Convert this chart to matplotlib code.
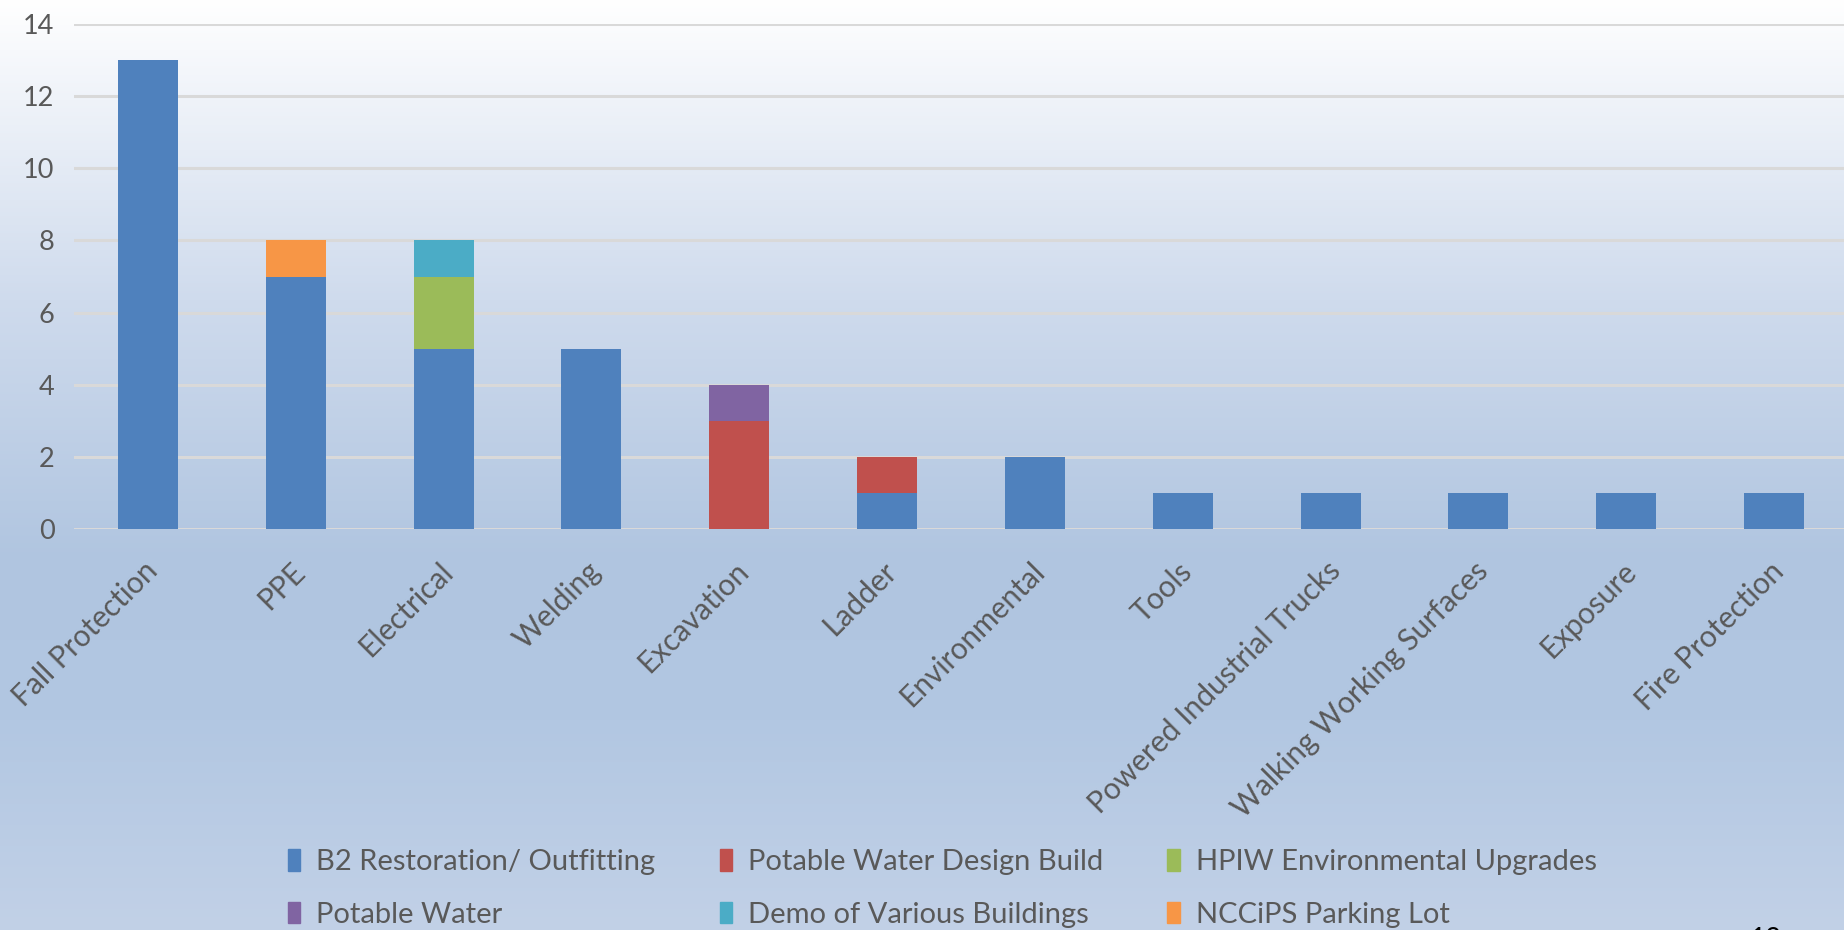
import numpy as np
import matplotlib
matplotlib.use("Agg")
import matplotlib.pyplot as plt
from matplotlib.patches import Patch
from matplotlib.transforms import ScaledTranslation

# ─── DATA ──────────────────────────────────────────────────────────────────────

categories = ["Fall Protection", "PPE", "Electrical", "Welding", "Excavation", "Ladder",
              "Environmental", "Tools", "Powered Industrial Trucks",
              "Walking Working Surfaces", "Exposure", "Fire Protection"]

series_names = ["B2 Restoration/ Outfitting", "Potable Water Design Build",
                "HPIW Environmental Upgrades", "Potable Water",
                "Demo of Various Buildings", "NCCiPS Parking Lot"]

b2_restoration = [13, 7, 5, 5, 0, 1, 2, 1, 1, 1, 1, 1]
potable_design = [0, 0, 0, 0, 3, 1, 0, 0, 0, 0, 0, 0]
hpiw_upgrades = [0, 0, 2, 0, 0, 0, 0, 0, 0, 0, 0, 0]
potable_water = [0, 0, 0, 0, 1, 0, 0, 0, 0, 0, 0, 0]
demo_buildings = [0, 0, 1, 0, 0, 0, 0, 0, 0, 0, 0, 0]
nccips_parking = [0, 1, 0, 0, 0, 0, 0, 0, 0, 0, 0, 0]

y_ticks = [0, 2, 4, 6, 8, 10, 12, 14]

colors = ["#4F81BD", "#C0504D", "#9BBB59", "#8064A2", "#4BACC6", "#F79646"]

# ─── FIGURE ────────────────────────────────────────────────────────────────────

plt.rcParams['font.family'] = ['Lato', 'DejaVu Sans']
text_color = "#595959"

fig = plt.figure(figsize=(18.44, 9.30), dpi=100)

# slide background gradient (white at top -> light steel blue)
stops_y = [0, 300, 560, 720, 930]
stops_rgb = np.array([[255, 255, 255], [207, 219, 237], [176, 197, 224],
                      [178, 199, 226], [194, 209, 231]]) / 255.0
yy = np.arange(930)
grad = np.stack([np.interp(yy, stops_y, stops_rgb[:, c]) for c in range(3)], axis=1)
bg = fig.add_axes([0, 0, 1, 1], zorder=-10)
bg.imshow(grad[:, None, :], aspect="auto", extent=[0, 1, 0, 1])
bg.axis("off")

ax = fig.add_axes([74 / 1844, (930 - 529) / 930, (1848 - 74) / 1844, (529 - 24) / 930])
ax.set_facecolor("none")

all_series = [b2_restoration, potable_design, hpiw_upgrades,
              potable_water, demo_buildings, nccips_parking]
x = np.arange(len(categories))
bottoms = np.zeros(len(categories))
for name, vals, col in zip(series_names, all_series, colors):
    vals = np.array(vals, dtype=float)
    ax.bar(x, vals, width=0.405, bottom=bottoms, color=col, label=name, zorder=3)
    bottoms += vals

ax.set_xlim(-0.5, len(categories) - 0.5)
ax.set_ylim(0, 14)
ax.set_yticks(y_ticks)
ax.yaxis.grid(True, color="#d9d9d9", linewidth=2.2, zorder=0)
ax.set_axisbelow(True)
for s in ax.spines.values():
    s.set_visible(False)

ax.tick_params(axis="both", length=0, colors=text_color)
ax.tick_params(axis="y", pad=14, labelsize=19.5)
ax.set_xticks(x)
ax.set_xticklabels(categories, rotation=45, ha="right", va="top", rotation_mode="default")
ax.tick_params(axis="x", pad=20, labelsize=21.5)
# nudge rotated labels right, as in the original
shift = ScaledTranslation(0.15, 0, fig.dpi_scale_trans)
for lab in ax.get_xticklabels():
    lab.set_transform(lab.get_transform() + shift)

# legend, row-major order like the original
handles = [Patch(color=c, label=n) for c, n in zip(colors, series_names)]
order = [0, 3, 1, 4, 2, 5]
leg = fig.legend([handles[i] for i in order], [series_names[i] for i in order],
                 ncol=3, loc="upper left", bbox_to_anchor=(288 / 1844, 1 - 849 / 930),
                 frameon=False, fontsize=21, handlelength=0.42, handleheight=0.75,
                 handletextpad=0.55, columnspacing=2.2, labelspacing=0.92,
                 borderpad=0, borderaxespad=0)
for t in leg.get_texts():
    t.set_color(text_color)

# slide number, mostly cut off at the bottom edge
fig.text(1750 / 1844, 3 / 930, "12", color="black", fontsize=20, va="top", ha="left")

fig.savefig("out.png", dpi=100)
